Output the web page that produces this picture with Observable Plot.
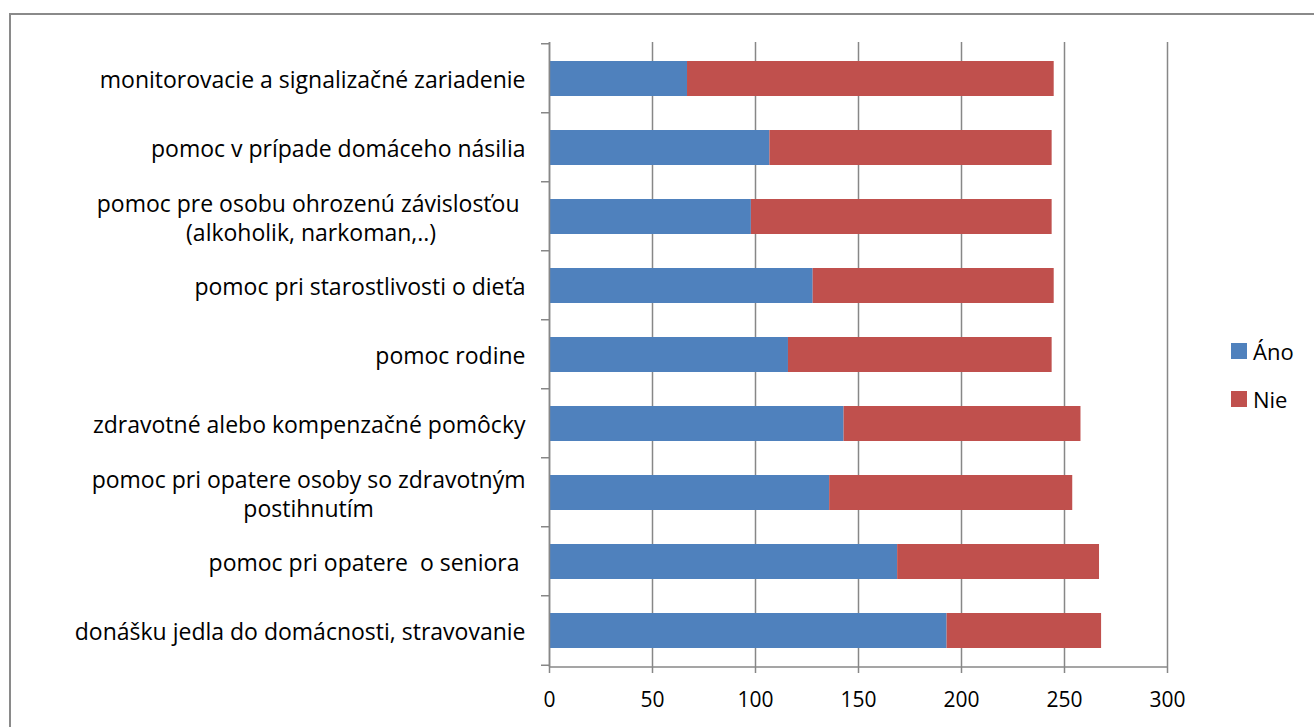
<!DOCTYPE html>
<html>
<head>
<meta charset="utf-8">
<script src="https://cdn.jsdelivr.net/npm/d3@7"></script>
<script src="https://cdn.jsdelivr.net/npm/@observablehq/plot@0.6"></script>
<style>
  html, body { margin: 0; padding: 0; background: #fff; }
  #wrap { position: relative; width: 1314px; height: 727px; overflow: hidden; font-family: "Open Sans", sans-serif; }
  #frame { position: absolute; left: 9px; top: 13px; width: 1400px; height: 800px; border-left: 2px solid #8a8a8a; border-top: 2px solid #8a8a8a; }
  #chart { position: absolute; left: 0; top: 0; }
  .leg { position: absolute; font-size: 22px; color: #000; display: flex; align-items: center; line-height: 1; }
  .leg span.sw { display: inline-block; width: 16px; height: 16px; margin-right: 6px; }
</style>
</head>
<body>
<div id="wrap">
  <div id="frame"></div>
  <div id="chart"></div>
  <div id="legend"></div>
</div>
<script>
const categories = [
  "monitorovacie a signalizačné zariadenie",
  "pomoc v prípade domáceho násilia",
  "pomoc pre osobu ohrozenú závislosťou \n(alkoholik, narkoman,..)",
  "pomoc pri starostlivosti o dieťa",
  "pomoc rodine",
  "zdravotné alebo kompenzačné pomôcky",
  "pomoc pri opatere osoby so zdravotným\npostihnutím",
  "pomoc pri opatere  o seniora ",
  "donášku jedla do domácnosti, stravovanie"
];
const series = ["Áno", "Nie"];
const ano = [67, 107, 98, 128, 116, 143, 136, 169, 193];
const nie = [178, 137, 146, 117, 128, 115, 118, 98, 75];
const colors = ["#4F81BD", "#C0504D"];
const xTicks = [0, 50, 100, 150, 200, 250, 300];

const data = [];
categories.forEach((c, i) => {
  data.push({cat: c, series: "Áno", value: ano[i]});
  data.push({cat: c, series: "Nie", value: nie[i]});
});

const W = 1314, H = 727;
const LABEL_PX = 23;
const plot = Plot.plot({
  width: W, height: H,
  marginLeft: 549, marginRight: 147, marginTop: 42, marginBottom: 60,
  style: {fontFamily: "Open Sans, sans-serif", color: "#000", background: "transparent"},
  x: {domain: [0, 300], ticks: xTicks, label: null},
  y: {domain: categories, paddingInner: 0.5, paddingOuter: 0.25, label: null},
  color: {domain: series, range: colors},
  marks: [
    Plot.gridX(xTicks, {stroke: "#878787", strokeWidth: 1.5, strokeOpacity: 1}),
    Plot.barX(data, Plot.stackX({y: "cat", x: "value", fill: "series", order: series, inset: 0})),
    Plot.ruleX([0], {stroke: "#878787", strokeWidth: 1.5}),
    Plot.axisX(xTicks, {tickSize: 6, tickPadding: 19, stroke: "#878787", strokeWidth: 1.5, fontSize: 21, tickFormat: d => String(d)}),
    Plot.axisY({tickSize: 0, tickPadding: 24, fontSize: LABEL_PX, lineHeight: 1.26, textStroke: "none"})
  ]
});
document.getElementById("chart").appendChild(plot);

const svg = d3.select(plot);
const xs = plot.scale("x"), ys = plot.scale("y");
const yBottom = H - 60;
svg.append("line")
  .attr("x1", xs.apply(0)).attr("x2", xs.apply(300))
  .attr("y1", yBottom).attr("y2", yBottom)
  .attr("stroke", "#878787").attr("stroke-width", 1.5);
const step = ys.step;
const bounds = categories.map(c => ys.apply(c) - step * 0.25);
bounds.push(ys.apply(categories[categories.length - 1]) + ys.bandwidth + step * 0.25);
bounds.forEach(b => {
  svg.append("line")
    .attr("x1", xs.apply(0) - 8).attr("x2", xs.apply(0))
    .attr("y1", b).attr("y2", b)
    .attr("stroke", "#878787").attr("stroke-width", 1.5);
});
// center multi-line labels as a block, preserve trailing spaces
svg.selectAll("text").each(function() {
  const t = d3.select(this);
  t.style("white-space", "pre");
  const tsp = t.selectAll("tspan");
  if (tsp.size() > 1) {
    let maxW = 0;
    tsp.each(function() { maxW = Math.max(maxW, this.getComputedTextLength()); });
    t.attr("text-anchor", "middle");
    tsp.attr("x", -maxW / 2);
  }
});

const leg = document.getElementById("legend");
series.forEach((s, i) => {
  const d = document.createElement("div");
  d.className = "leg";
  d.style.left = "1231px";
  d.style.top = (340 + i * 48) + "px";
  d.innerHTML = `<span class="sw" style="background:${colors[i]}"></span><span>${s}</span>`;
  leg.appendChild(d);
});
</script>
</body>
</html>
